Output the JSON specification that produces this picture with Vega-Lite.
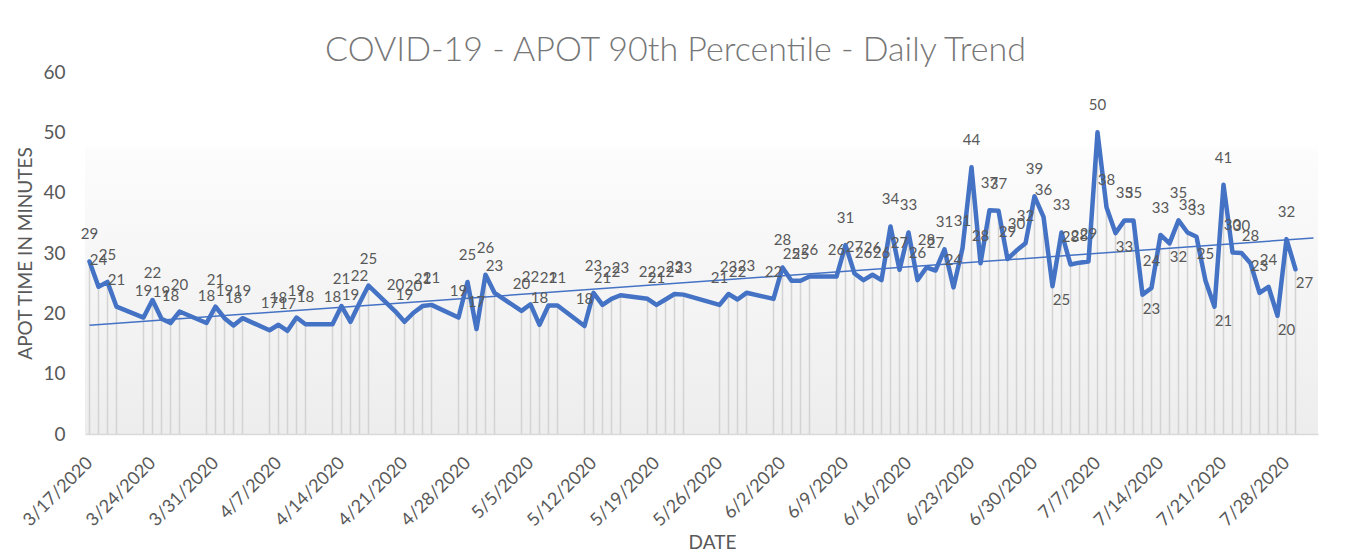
{
  "$schema": "https://vega.github.io/schema/vega-lite/v6.json",
  "width": 1233,
  "height": 362,
  "autosize": "none",
  "padding": {"left": 85, "top": 72, "right": 29, "bottom": 119},
  "background": "#ffffff",
  "view": {"stroke": null, "fill": {"gradient": "linear", "x1": 0, "y1": 0, "x2": 0, "y2": 1, "stops": [{"offset": 0, "color": "#ffffff"}, {"offset": 0.2, "color": "#ffffff"}, {"offset": 0.22, "color": "#fcfcfc"}, {"offset": 1, "color": "#ededed"}]}},
  "title": {"text": "COVID-19 - APOT 90th Percentile - Daily Trend", "font": "Lato", "fontSize": 34, "fontWeight": 300, "color": "#777777", "anchor": "middle", "baseline": "alphabetic", "offset": 10, "dx": -26, "dy": 42},
  "data": {
    "format": {"parse": {"date": "date"}},
    "values": [
      {"date": "2020/03/17", "value": 28.6},
      {"date": "2020/03/18", "value": 24.4},
      {"date": "2020/03/19", "value": 25.2},
      {"date": "2020/03/20", "value": 21.1},
      {"date": "2020/03/23", "value": 19.3},
      {"date": "2020/03/24", "value": 22.2},
      {"date": "2020/03/25", "value": 19.1},
      {"date": "2020/03/26", "value": 18.4},
      {"date": "2020/03/27", "value": 20.3},
      {"date": "2020/03/30", "value": 18.4},
      {"date": "2020/03/31", "value": 21.1},
      {"date": "2020/04/01", "value": 19.2},
      {"date": "2020/04/02", "value": 18.0},
      {"date": "2020/04/03", "value": 19.2},
      {"date": "2020/04/06", "value": 17.2},
      {"date": "2020/04/07", "value": 18.1},
      {"date": "2020/04/08", "value": 17.1},
      {"date": "2020/04/09", "value": 19.3},
      {"date": "2020/04/10", "value": 18.2},
      {"date": "2020/04/13", "value": 18.2},
      {"date": "2020/04/14", "value": 21.2},
      {"date": "2020/04/15", "value": 18.6},
      {"date": "2020/04/16", "value": 21.7},
      {"date": "2020/04/17", "value": 24.6},
      {"date": "2020/04/20", "value": 20.3},
      {"date": "2020/04/21", "value": 18.6},
      {"date": "2020/04/22", "value": 20.1},
      {"date": "2020/04/23", "value": 21.2},
      {"date": "2020/04/24", "value": 21.4},
      {"date": "2020/04/27", "value": 19.3},
      {"date": "2020/04/28", "value": 25.2},
      {"date": "2020/04/29", "value": 17.4},
      {"date": "2020/04/30", "value": 26.4},
      {"date": "2020/05/01", "value": 23.4},
      {"date": "2020/05/04", "value": 20.4},
      {"date": "2020/05/05", "value": 21.5},
      {"date": "2020/05/06", "value": 18.1},
      {"date": "2020/05/07", "value": 21.3},
      {"date": "2020/05/08", "value": 21.3},
      {"date": "2020/05/11", "value": 17.9},
      {"date": "2020/05/12", "value": 23.4},
      {"date": "2020/05/13", "value": 21.4},
      {"date": "2020/05/14", "value": 22.4},
      {"date": "2020/05/15", "value": 23.0},
      {"date": "2020/05/18", "value": 22.4},
      {"date": "2020/05/19", "value": 21.4},
      {"date": "2020/05/20", "value": 22.3},
      {"date": "2020/05/21", "value": 23.2},
      {"date": "2020/05/22", "value": 23.1},
      {"date": "2020/05/26", "value": 21.4},
      {"date": "2020/05/27", "value": 23.2},
      {"date": "2020/05/28", "value": 22.3},
      {"date": "2020/05/29", "value": 23.4},
      {"date": "2020/06/01", "value": 22.4},
      {"date": "2020/06/02", "value": 27.6},
      {"date": "2020/06/03", "value": 25.4},
      {"date": "2020/06/04", "value": 25.4},
      {"date": "2020/06/05", "value": 26.1},
      {"date": "2020/06/08", "value": 26.1},
      {"date": "2020/06/09", "value": 31.3},
      {"date": "2020/06/10", "value": 26.6},
      {"date": "2020/06/11", "value": 25.5},
      {"date": "2020/06/12", "value": 26.4},
      {"date": "2020/06/13", "value": 25.5},
      {"date": "2020/06/14", "value": 34.4},
      {"date": "2020/06/15", "value": 27.2},
      {"date": "2020/06/16", "value": 33.4},
      {"date": "2020/06/17", "value": 25.5},
      {"date": "2020/06/18", "value": 27.6},
      {"date": "2020/06/19", "value": 27.1},
      {"date": "2020/06/20", "value": 30.6},
      {"date": "2020/06/21", "value": 24.3},
      {"date": "2020/06/22", "value": 30.8},
      {"date": "2020/06/23", "value": 44.2},
      {"date": "2020/06/24", "value": 28.3},
      {"date": "2020/06/25", "value": 37.1},
      {"date": "2020/06/26", "value": 37.0},
      {"date": "2020/06/27", "value": 29.0},
      {"date": "2020/06/28", "value": 30.4},
      {"date": "2020/06/29", "value": 31.6},
      {"date": "2020/06/30", "value": 39.4},
      {"date": "2020/07/01", "value": 36.0},
      {"date": "2020/07/02", "value": 24.5},
      {"date": "2020/07/03", "value": 33.4},
      {"date": "2020/07/04", "value": 28.1},
      {"date": "2020/07/05", "value": 28.4},
      {"date": "2020/07/06", "value": 28.6},
      {"date": "2020/07/07", "value": 50.0},
      {"date": "2020/07/08", "value": 37.6},
      {"date": "2020/07/09", "value": 33.3},
      {"date": "2020/07/10", "value": 35.4},
      {"date": "2020/07/11", "value": 35.4},
      {"date": "2020/07/12", "value": 23.1},
      {"date": "2020/07/13", "value": 24.2},
      {"date": "2020/07/14", "value": 33.0},
      {"date": "2020/07/15", "value": 31.6},
      {"date": "2020/07/16", "value": 35.4},
      {"date": "2020/07/17", "value": 33.4},
      {"date": "2020/07/18", "value": 32.7},
      {"date": "2020/07/19", "value": 25.4},
      {"date": "2020/07/20", "value": 21.1},
      {"date": "2020/07/21", "value": 41.3},
      {"date": "2020/07/22", "value": 30.1},
      {"date": "2020/07/23", "value": 30.0},
      {"date": "2020/07/24", "value": 28.3},
      {"date": "2020/07/25", "value": 23.4},
      {"date": "2020/07/26", "value": 24.4},
      {"date": "2020/07/27", "value": 19.6},
      {"date": "2020/07/28", "value": 32.3},
      {"date": "2020/07/29", "value": 27.3}
    ]
  },
  "transform": [
    {"window": [{"op": "lag", "field": "value", "as": "prev"}, {"op": "lead", "field": "value", "as": "next"}], "sort": [{"field": "date"}]}
  ],
  "encoding": {
    "x": {
      "field": "date", "type": "temporal",
      "scale": {"domain": [{"year": 2020, "month": 3, "date": 16, "hours": 12}, {"year": 2020, "month": 7, "date": 31, "hours": 12}]},
      "axis": {
        "title": "DATE",
        "values": [
          {"year": 2020, "month": 3, "date": 17}, {"year": 2020, "month": 3, "date": 24}, {"year": 2020, "month": 3, "date": 31},
          {"year": 2020, "month": 4, "date": 7}, {"year": 2020, "month": 4, "date": 14}, {"year": 2020, "month": 4, "date": 21}, {"year": 2020, "month": 4, "date": 28},
          {"year": 2020, "month": 5, "date": 5}, {"year": 2020, "month": 5, "date": 12}, {"year": 2020, "month": 5, "date": 19}, {"year": 2020, "month": 5, "date": 26},
          {"year": 2020, "month": 6, "date": 2}, {"year": 2020, "month": 6, "date": 9}, {"year": 2020, "month": 6, "date": 16}, {"year": 2020, "month": 6, "date": 23}, {"year": 2020, "month": 6, "date": 30},
          {"year": 2020, "month": 7, "date": 7}, {"year": 2020, "month": 7, "date": 14}, {"year": 2020, "month": 7, "date": 21}, {"year": 2020, "month": 7, "date": 28}
        ],
        "format": "%-m/%-d/%Y",
        "labelAngle": -45, "labelAlign": "right", "labelBaseline": "middle",
        "labelFont": "Lato", "labelFontSize": 18, "labelColor": "#595959", "labelPadding": 26,
        "labelOverlap": false, "labelFlush": false,
        "ticks": false, "tickSize": 0, "grid": false,
        "domainColor": "#d9d9d9", "domainWidth": 1.5,
        "titleFont": "Lato", "titleFontSize": 19, "titleFontWeight": "normal", "titleColor": "#595959",
        "titleX": 627, "titleY": 114, "titleBaseline": "alphabetic", "titleAlign": "center"
      }
    },
    "y": {
      "field": "value", "type": "quantitative",
      "scale": {"domain": [0, 60]},
      "axis": {
        "title": "APOT TIME IN MINUTES",
        "values": [0, 10, 20, 30, 40, 50, 60],
        "domain": false, "ticks": false, "tickSize": 0, "grid": false,
        "labelFont": "Lato", "labelFontSize": 19, "labelColor": "#595959", "labelPadding": 20,
        "titleFont": "Lato", "titleFontSize": 19, "titleFontWeight": "normal", "titleColor": "#595959",
        "titleX": -60, "titleY": 181, "titleBaseline": "middle", "titleAlign": "center"
      }
    }
  },
  "layer": [
    {
      "mark": {"type": "rule", "color": "#d3d3d3", "strokeWidth": 1.5},
      "encoding": {"y2": {"datum": 0}}
    },
    {
      "mark": {"type": "line", "color": "#4472C4", "strokeWidth": 4.5, "strokeJoin": "round", "strokeCap": "round"}
    },
    {
      "transform": [
        {"calculate": "round((time(datum.date) - time(datetime(2020, 2, 17))) / 86400000)", "as": "idx"},
        {"regression": "value", "on": "idx", "extent": [0, 136]},
        {"calculate": "datetime(2020, 2, 17 + round(datum.idx))", "as": "date"}
      ],
      "mark": {"type": "line", "color": "#4472C4", "strokeWidth": 1.5}
    },
    {
      "transform": [{"filter": "!(month(datum.date) >= 6 && (datum.next == null || (datum.value < datum.prev - 1 && datum.value < datum.next - 1)))"}],
      "mark": {"type": "text", "font": "Lato", "fontSize": 15, "color": "#595959", "baseline": "middle", "align": "center", "dy": -27},
      "encoding": {"text": {"field": "value", "type": "quantitative", "format": ".0f"}}
    },
    {
      "transform": [{"filter": "month(datum.date) >= 6 && (datum.next == null || (datum.value < datum.prev - 1 && datum.value < datum.next - 1))"}],
      "mark": {"type": "text", "font": "Lato", "fontSize": 15, "color": "#595959", "baseline": "middle", "align": "center", "dy": 14, "dx": 9},
      "encoding": {"text": {"field": "value", "type": "quantitative", "format": ".0f"}}
    }
  ]
}
